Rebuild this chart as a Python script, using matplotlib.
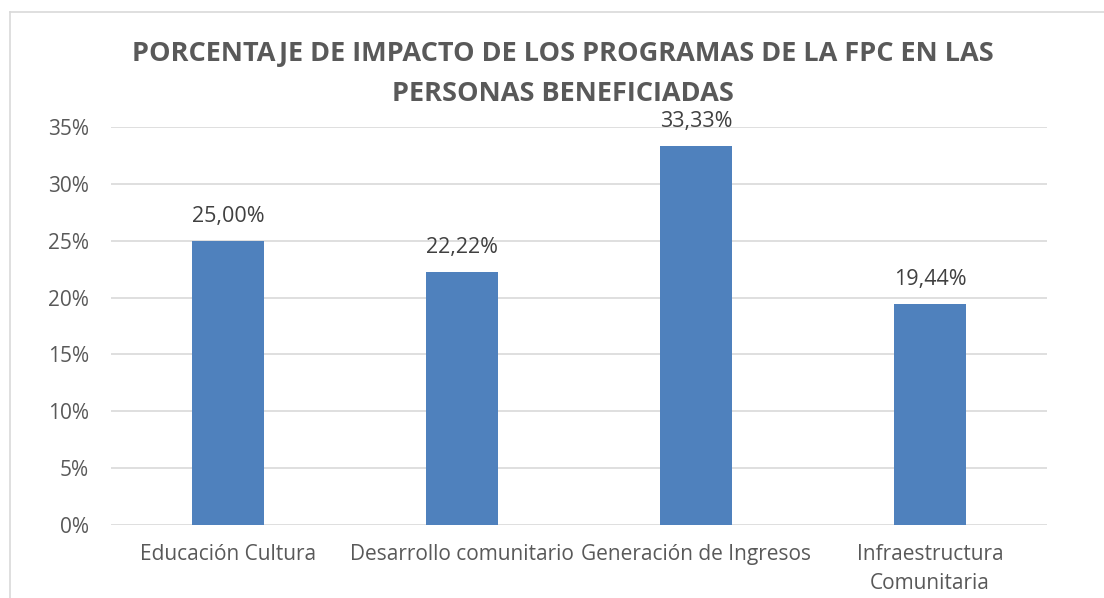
import matplotlib
matplotlib.use("Agg")
import matplotlib.pyplot as plt
from matplotlib.lines import Line2D
from matplotlib.ticker import FuncFormatter, MultipleLocator

categories = ["Educación Cultura", "Desarrollo comunitario", "Generación de Ingresos", "Infraestructura\nComunitaria"]
values = [25.00, 22.22, 33.33, 19.44]
title = "PORCENTAJE DE IMPACTO DE LOS PROGRAMAS DE LA FPC EN LAS\nPERSONAS BENEFICIADAS"

plt.rcParams['font.family'] = ['Open Sans', 'DejaVu Sans']

fig = plt.figure(figsize=(11.04, 5.98), dpi=100)
ax = fig.add_axes([111/1104, 1-525/598, (1047-111)/1104, (525-127)/598])

x = list(range(len(categories)))
bars = ax.bar(x, values, width=0.31, color="#4F81BD", zorder=3)
for xi, v in zip(x, values):
    ax.annotate(f"{v:.2f}%".replace(".", ","), (xi, v), xytext=(0, 10), textcoords="offset points",
                ha="center", va="bottom", fontsize=15.5, color="#404040")

ax.set_xlim(-0.5, len(categories)-0.5)
ax.set_ylim(0, 35)
ax.yaxis.set_major_locator(MultipleLocator(5))
ax.yaxis.set_major_formatter(FuncFormatter(lambda v, p: f"{v:.0f}%"))
ax.set_xticks(x)
ax.set_xticklabels(categories, fontsize=15, color="#595959", linespacing=1.5)
ax.tick_params(axis='y', labelsize=15, labelcolor="#595959", length=0, pad=16)
ax.tick_params(axis='x', length=0, pad=14)
ax.grid(axis='y', color="#D9D9D9", linewidth=1.2, zorder=0)
for s in ax.spines.values():
    s.set_visible(False)

fig.text(563/1104, 1-74/598, title, ha="center", va="center", fontsize=19.5, fontweight="bold",
         color="#595959", linespacing=1.7)

# chart border (partially visible)
fig.add_artist(Line2D([10/1104, 1], [1-12/598, 1-12/598], color="#D9D9D9", linewidth=1.2, transform=fig.transFigure))
fig.add_artist(Line2D([10/1104, 10/1104], [0, 1-12/598], color="#D9D9D9", linewidth=1.2, transform=fig.transFigure))

fig.savefig("out.png", dpi=100, facecolor="white")
